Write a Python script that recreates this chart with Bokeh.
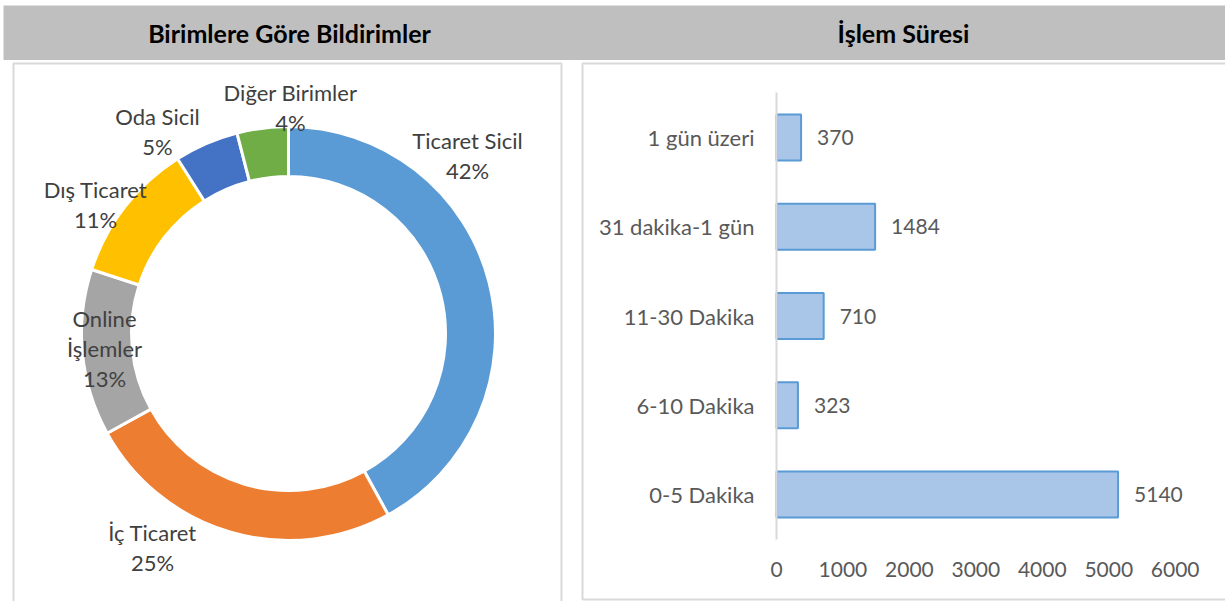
import math
from bokeh.plotting import figure
from bokeh.layouts import column, row
from bokeh.models import Range1d, FixedTicker, ColumnDataSource
from bokeh.core.properties import value
from bokeh.embed import file_html
from bokeh.resources import INLINE

# ---------------- data ----------------
left_title = "Birimlere Göre Bildirimler"
right_title = "İşlem Süresi"

units = ["Ticaret Sicil", "İç Ticaret", "Online İşlemler", "Dış Ticaret", "Oda Sicil", "Diğer Birimler"]
unit_share = [42, 25, 13, 11, 5, 4]
unit_colors = ["#5B9BD5", "#ED7D31", "#A5A5A5", "#FFC000", "#4472C4", "#70AD47"]

durations = ["0-5 Dakika", "6-10 Dakika", "11-30 Dakika", "31 dakika-1 gün", "1 gün üzeri"]
duration_counts = [5140, 323, 710, 1484, 370]
x_ticks = [0, 1000, 2000, 3000, 4000, 5000, 6000]

# ---------------- layout geometry (pixels) ----------------
W, H = 1225, 601
HEAD_H = 60
ROW_H = H - HEAD_H
LEFT_W = 571
RIGHT_W = W - LEFT_W
FONT = "Lato"
BORDER = "#D9D9D9"


def gy(y):
    """global (top-down) pixel -> row-figure coordinate (bottom-up)"""
    return H - y


def base_fig(w, h, xr, yr, axes=False):
    kw = dict(width=w, height=h, x_range=xr, y_range=yr, output_backend="svg",
              toolbar_location=None, min_border=0, outline_line_color=None,
              background_fill_color="white", border_fill_color="white")
    if not axes:
        kw.update(x_axis_location=None, y_axis_location=None)
    p = figure(**kw)
    p.grid.visible = False
    return p


# ---------------- header ----------------
hdr = base_fig(W, HEAD_H, Range1d(0, W), Range1d(0, HEAD_H))
hdr.quad(left=3, right=W, bottom=0, top=HEAD_H - 5, fill_color="#BFBFBF", line_color=None)
hdr.text(x=[289, 903], y=[HEAD_H - 32, HEAD_H - 32], text=[left_title, right_title],
         text_align="center", text_baseline="middle", text_font=value(FONT),
         text_font_style="bold", text_font_size="25px", text_color="#000000")

# ---------------- donut ----------------
lf = base_fig(LEFT_W, ROW_H, Range1d(0, LEFT_W), Range1d(0, ROW_H))
lf.quad(left=13, right=561, top=gy(63), bottom=-20, fill_color=None,
        line_color=BORDER, line_width=2)

cx, cy = 288, gy(333)
R_OUT, R_IN = 207, 157
total = float(sum(unit_share))
starts, ends = [], []
acc = 0.0
for s in unit_share:
    starts.append(math.pi / 2 - 2 * math.pi * acc / total)
    acc += s
    ends.append(math.pi / 2 - 2 * math.pi * acc / total)

dsrc = ColumnDataSource(dict(unit=units, share=unit_share, color=unit_colors,
                             start=starts, end=ends))
lf.annular_wedge(x=cx, y=cy, inner_radius=R_IN, outer_radius=R_OUT,
                 start_angle="start", end_angle="end", direction="clock",
                 fill_color="color", line_color="white", line_width=3, source=dsrc)

# label placement offsets from the donut centre (x right, y up), Excel best-fit
label_offsets = [(179, 178), (-136, -214), (-184, -15), (-193, 129), (-131, 202), (2, 226)]
label_text = []
for u, s in zip(units, unit_share):
    name = u.replace("Online ", "Online\n")
    label_text.append(f"{name}\n{round(100 * s / total)}%")
lf.text(x=[cx + dx for dx, dy in label_offsets], y=[cy + dy for dx, dy in label_offsets],
        text=label_text, text_align="center", text_baseline="middle",
        text_font=value(FONT), text_font_size="22px", text_color="#404040",
        text_line_height=1.12)

# ---------------- bar chart ----------------
X0_PX = 776            # global x of value 0
PX_PER_UNIT = 66.45 / 1000
Y0_PX = 494            # global y of first category
PITCH = 89.25
x_start = (LEFT_W - X0_PX) / PX_PER_UNIT
x_end = (W - X0_PX) / PX_PER_UNIT
y_start = (Y0_PX - H) / PITCH
y_end = (Y0_PX - HEAD_H) / PITCH

rf = base_fig(RIGHT_W, ROW_H, Range1d(x_start, x_end), Range1d(y_start, y_end), axes=True)
rf.extra_x_ranges = {"px": Range1d(LEFT_W, W)}
rf.extra_y_ranges = {"py": Range1d(0, ROW_H)}
rf.quad(left=582, right=W + 20, top=gy(63), bottom=gy(599), x_range_name="px",
        y_range_name="py", fill_color=None, line_color=BORDER, line_width=2)

idx = list(range(len(durations)))
bsrc = ColumnDataSource(dict(y=idx, v=duration_counts, lab=[str(c) for c in duration_counts]))
rf.hbar(y="y", left=0, right="v", height=0.515, fill_color="#A9C5E8",
        line_color="#5B9BD5", line_width=2, source=bsrc)
rf.text(x="v", y="y", text="lab", x_offset=16, text_align="left", text_baseline="middle",
        text_font=value(FONT), text_font_size="21px", text_color="#595959", source=bsrc)

ya = rf.yaxis[0]
ya.fixed_location = 0
ya.bounds = (-0.5, len(durations) - 0.5)
ya.ticker = FixedTicker(ticks=idx)
ya.major_label_overrides = {i: d for i, d in zip(idx, durations)}
ya.axis_line_color = BORDER
ya.axis_line_width = 2
ya.major_tick_line_color = None
ya.minor_tick_line_color = None
ya.major_tick_in = 0
ya.major_tick_out = 0
ya.major_label_standoff = 22
ya.major_label_text_font = FONT
ya.major_label_text_font_size = "22px"
ya.major_label_text_color = "#595959"

xa = rf.xaxis[0]
xa.fixed_location = -0.5
xa.ticker = FixedTicker(ticks=x_ticks)
xa.axis_line_color = None
xa.major_tick_line_color = None
xa.minor_tick_line_color = None
xa.major_tick_in = 0
xa.major_tick_out = 0
xa.major_label_standoff = 23
xa.major_label_text_font = FONT
xa.major_label_text_font_size = "21px"
xa.major_label_text_color = "#595959"

layout = column(hdr, row(lf, rf, spacing=0), spacing=0)
open("out.html", "w").write(file_html(layout, INLINE))
